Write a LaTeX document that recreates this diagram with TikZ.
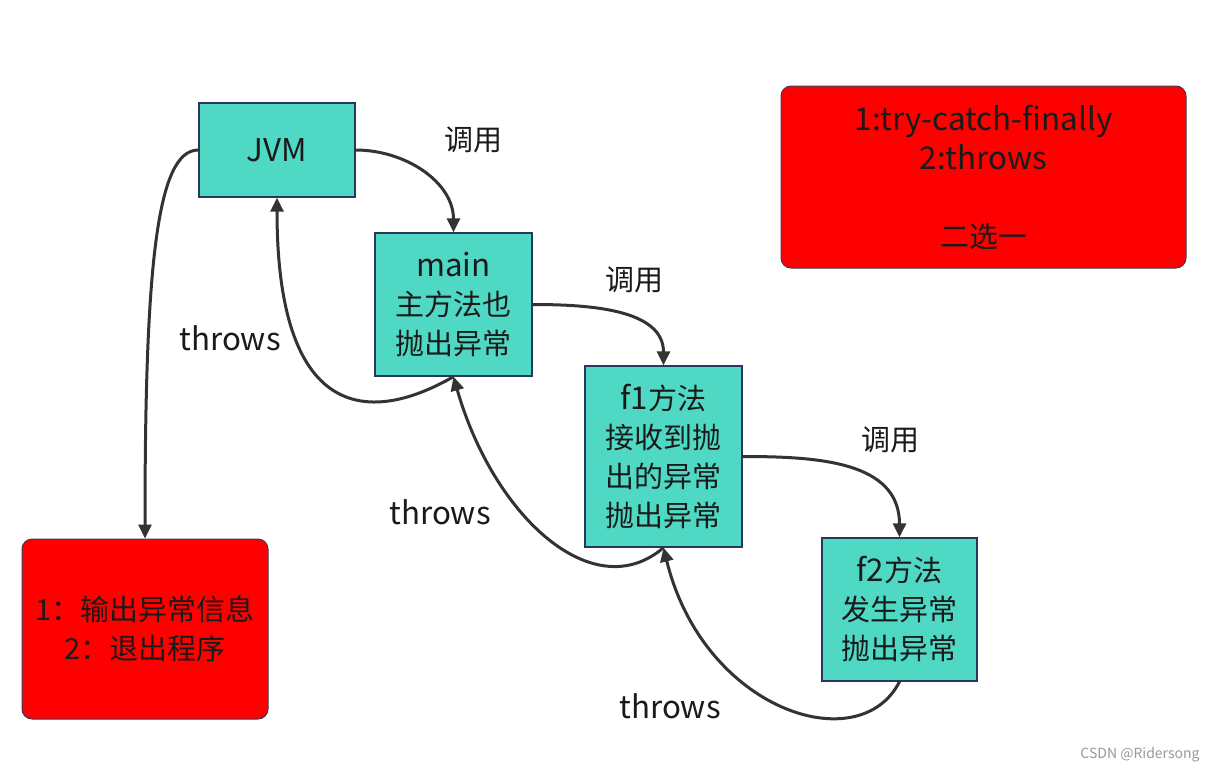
\documentclass[tikz,border=0pt]{standalone}
\usepackage{fontspec}
\setmainfont{Noto Sans CJK SC}
\newfontfamily\lat{Noto Sans CJK SC}[Scale=1.08]
\usetikzlibrary{arrows.meta}
\definecolor{teal1}{RGB}{79,216,196}
\definecolor{tealborder}{RGB}{40,55,90}
\definecolor{redfill}{RGB}{255,0,0}
\definecolor{redborder}{RGB}{60,60,90}
\definecolor{linec}{RGB}{51,51,51}
\definecolor{txt}{RGB}{26,26,26}
\begin{document}
\begin{tikzpicture}[x=1pt,y=-1pt,
  box/.style={draw=tealborder,line width=1.3pt,fill=teal1,inner sep=0pt,align=center,
    text=txt,font=\fontsize{29}{39}\selectfont},
  redbox/.style={draw=redborder,line width=1pt,fill=redfill,rounded corners=10pt,inner sep=0pt,
    align=center,text=txt,font=\fontsize{29}{39}\selectfont},
  lbl/.style={text=txt,font=\fontsize{29}{34}\selectfont,inner sep=0pt},
  conn/.style={draw=linec,line width=3pt,-{Triangle[length=14pt,width=13pt]}}]
\useasboundingbox (0,0) rectangle (1215,772);
\fill[white] (0,0) rectangle (1215,772);
% nodes
\node[box,minimum width=156pt,minimum height=94pt] (jvm) at (277,150) {\lat JVM};
\node[box,minimum width=157pt,minimum height=143pt] (main) at (453.5,304.5) {{\lat main}\\主方法也\\抛出异常};
\node[box,minimum width=157pt,minimum height=181pt] (f1) at (663.5,456.5) {{\lat f1}方法\\接收到抛\\出的异常\\抛出异常};
\node[box,minimum width=155pt,minimum height=143pt] (f2) at (899.5,609.5) {{\lat f2}方法\\发生异常\\抛出异常};
\node[redbox,minimum width=246pt,minimum height=180pt] (out) at (145,629) {1：输出异常信息\\2：退出程序};
\node[redbox,minimum width=405pt,minimum height=182pt] (opt) at (983.5,177) {{\lat 1:try-catch-finally}\\{\lat 2:throws}\\[39pt]二选一};
% labels
\node[lbl] (c1) at (473,140) {调用};
\node[lbl] (c2) at (634,280) {调用};
\node[lbl] (c3) at (890,440) {调用};
\node[lbl] (t1) at (230,338) {\lat throws};
\node[lbl] (t2) at (440,512) {\lat throws};
\node[lbl] (t3) at (670,706) {\lat throws};
\node[text=black!40,font=\fontsize{14}{16}\selectfont,inner sep=0pt] (wm) at (1140,755) {CSDN @Ridersong};
% connectors
\draw[conn] (jvm.east) to[out=0,in=90] (main.north);
\draw[conn] (main.east) to[out=0,in=90] (f1.north);
\draw[conn] (f1.east) to[out=0,in=90,looseness=1.1] (f2.north);
\draw[conn] (jvm.west) .. controls +(-42,0) and +(0,-270) .. (out.north);
\draw[conn] (main.south) .. controls +(-87,50) and +(0,220) .. (jvm.south);
\draw[conn] (f1.south) .. controls +(-70,60) and +(40,140) .. (main.south);
\draw[conn] (f2.south) .. controls +(-40,79) and +(40,163) .. (f1.south);
\end{tikzpicture}
\end{document}
